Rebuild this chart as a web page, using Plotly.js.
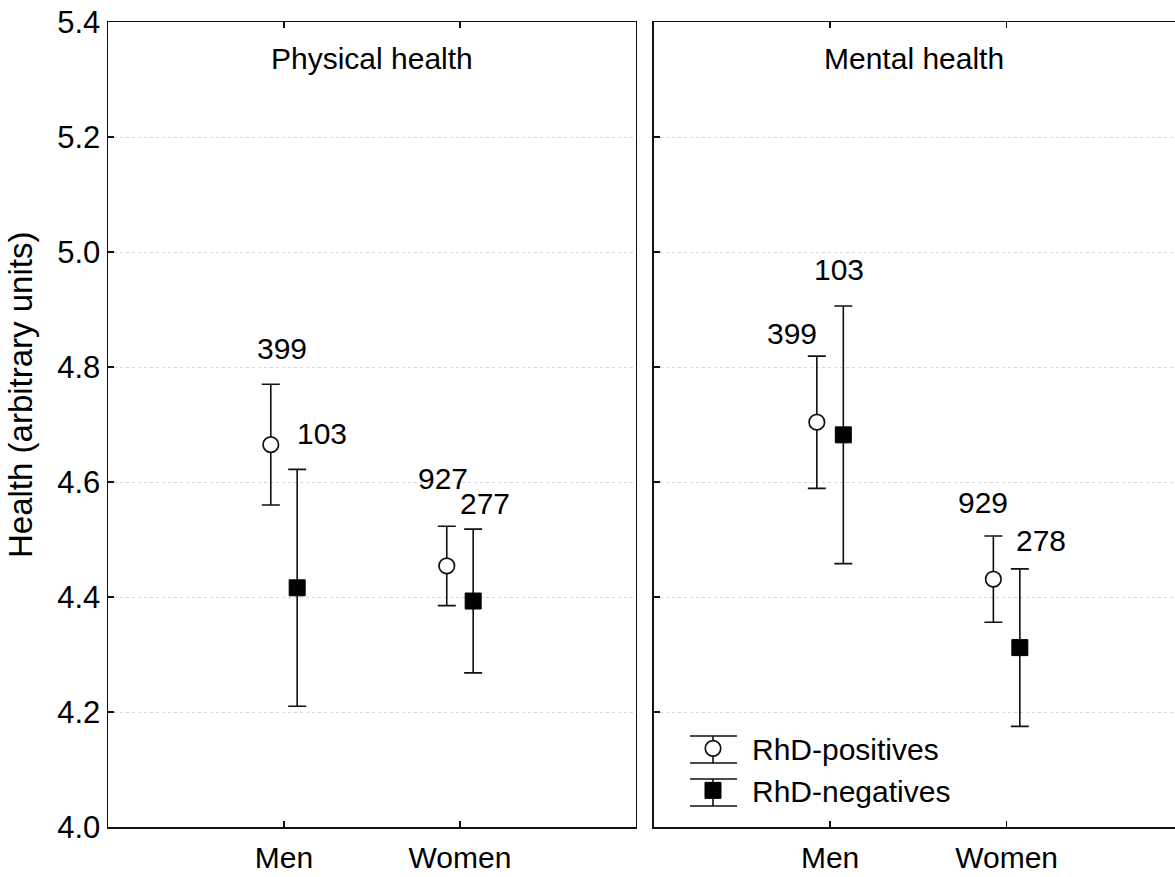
<!DOCTYPE html>
<html><head><meta charset="utf-8">
<script src="https://cdn.plot.ly/plotly-3.0.1.min.js"></script>
<style>html,body{margin:0;padding:0;background:#fff}#chart{width:1175px;height:877px}</style>
</head><body><div id="chart"></div>
<script>
// ---- data ----
const categories = ['Men', 'Women'];
const panelTitles = ['Physical health', 'Mental health'];
const seriesNames = ['RhD-positives', 'RhD-negatives'];
const yAxisTitle = 'Health (arbitrary units)';

const physPosMean = [4.665, 4.454];
const physPosErr  = [0.105, 0.069];
const physNegMean = [4.416, 4.393];
const physNegErr  = [0.206, 0.125];

const mentPosMean = [4.704, 4.431];
const mentPosErr  = [0.115, 0.075];
const mentNegMean = [4.682, 4.312];
const mentNegErr  = [0.224, 0.137];

const physPosN = [399, 927];
const physNegN = [103, 277];
const mentPosN = [399, 929];
const mentNegN = [103, 278];

const yTickVals = [4.0, 4.2, 4.4, 4.6, 4.8, 5.0, 5.2, 5.4];

// ---- styling ----
const FONT = 'Liberation Sans, Arial, sans-serif';
const FS = 30;
const INK = '#111';
const OFFSET = [-0.075, 0.075];           // horizontal offset of the two series
const catPos = categories.map((c, i) => i);
// label placement (pixel shifts relative to the upper whisker of each point)
const labelShift = {
  physPos: [[11, 36], [-4, 48]],
  physNeg: [[25, 36], [12, 26]],
  mentPos: [[-25, 23], [-10, 34]],
  mentNeg: [[-4, 37], [21, 28]]
};

// plot-area geometry helpers (pixel -> paper) for the legend key decoration
const M = {l: 108, r: 0, t: 22, b: 50}, W = 1175, H = 877;
const px2x = p => (p - M.l) / (W - M.l - M.r);
const px2y = p => (H - M.b - p) / (H - M.t - M.b);

function mkTrace(means, errs, s, xa, ya, showleg) {
  const open = s === 0;
  return {
    type: 'scatter', mode: 'markers',
    x: catPos.map(p => p + OFFSET[s]), y: means,
    xaxis: xa, yaxis: ya,
    name: seriesNames[s], showlegend: showleg,
    marker: open
      ? {symbol: 'circle', size: 15.5, color: '#fff', line: {color: INK, width: 1.7}}
      : {symbol: 'square', size: 16, color: '#000', line: {color: '#000', width: 1}},
    error_y: {type: 'data', array: errs, visible: true, color: INK, thickness: 1.6, width: 9},
    cliponaxis: false
  };
}

const traces = [
  mkTrace(physPosMean, physPosErr, 0, 'x', 'y', false),
  mkTrace(physNegMean, physNegErr, 1, 'x', 'y', false),
  mkTrace(mentPosMean, mentPosErr, 0, 'x2', 'y2', true),
  mkTrace(mentNegMean, mentNegErr, 1, 'x2', 'y2', true)
];

const annotations = [];
function addLabels(means, errs, ns, s, xref, yref, shifts) {
  ns.forEach((n, i) => {
    annotations.push({
      x: catPos[i] + OFFSET[s], y: means[i] + errs[i], xref: xref, yref: yref,
      text: String(n), showarrow: false,
      xshift: shifts[i][0], yshift: shifts[i][1],
      xanchor: 'center', yanchor: 'middle',
      font: {family: FONT, size: FS, color: '#000'}
    });
  });
}
addLabels(physPosMean, physPosErr, physPosN, 0, 'x', 'y', labelShift.physPos);
addLabels(physNegMean, physNegErr, physNegN, 1, 'x', 'y', labelShift.physNeg);
addLabels(mentPosMean, mentPosErr, mentPosN, 0, 'x2', 'y2', labelShift.mentPos);
addLabels(mentNegMean, mentNegErr, mentNegN, 1, 'x2', 'y2', labelShift.mentNeg);

panelTitles.forEach((t, i) => {
  annotations.push({
    text: t, xref: (i === 0 ? 'x' : 'x2') + ' domain', yref: 'paper',
    x: 0.5, y: px2y(58), xanchor: 'center', yanchor: 'middle', showarrow: false,
    font: {family: FONT, size: FS, color: '#000'}
  });
});

// y-axis title
annotations.push({
  text: yAxisTitle, xref: 'paper', yref: 'paper', x: px2x(20), y: px2y(395),
  xanchor: 'center', yanchor: 'middle', textangle: -90, showarrow: false,
  font: {family: FONT, size: 33, color: '#000'}
});

// legend key whisker decoration (caps + stem) matching the error bars
const shapes = [];
const keyX0 = px2x(690), keyX1 = px2x(737), keyXc = px2x(713);
[[736, 763], [779, 806]].forEach(([a, b]) => {
  const ln = {color: INK, width: 1.6};
  shapes.push({type: 'line', xref: 'paper', yref: 'paper', x0: keyX0, x1: keyX1, y0: px2y(a), y1: px2y(a), line: ln});
  shapes.push({type: 'line', xref: 'paper', yref: 'paper', x0: keyX0, x1: keyX1, y0: px2y(b), y1: px2y(b), line: ln});
  shapes.push({type: 'line', xref: 'paper', yref: 'paper', x0: keyXc, x1: keyXc, y0: px2y(a), y1: px2y(b), line: ln});
});

const gridStyle = {showgrid: true, gridcolor: '#d6d6d6', gridwidth: 1, griddash: 'dot'};
const xCommon = {
  range: [-1, 2], tickmode: 'array', tickvals: catPos, ticktext: categories,
  ticks: 'inside', ticklen: 6, tickwidth: 1.5, tickcolor: INK,
  showline: true, linecolor: INK, linewidth: 1.5, mirror: 'ticks',
  showgrid: false, zeroline: false, fixedrange: true, ticklabelstandoff: 3,
  tickfont: {family: FONT, size: FS, color: '#000'}
};

const layout = {
  width: W, height: H,
  margin: M,
  paper_bgcolor: '#fff', plot_bgcolor: '#fff',
  font: {family: FONT, size: FS, color: '#000'},
  xaxis: Object.assign({}, xCommon, {domain: [0, 0.4948], anchor: 'y'}),
  xaxis2: Object.assign({}, xCommon, {domain: [0.5113, 1], anchor: 'y2', range: [-1, 1.954]}),
  yaxis: Object.assign({}, gridStyle, {
    domain: [0, 1], anchor: 'x', range: [4.0, 5.4],
    tickmode: 'array', tickvals: yTickVals, ticktext: yTickVals.map(v => v.toFixed(1)),
    ticks: 'inside', ticklen: 6, tickwidth: 1.5, tickcolor: INK,
    showline: true, linecolor: INK, linewidth: 1.5, mirror: true,
    zeroline: false, fixedrange: true,
    tickfont: {family: FONT, size: 31, color: '#000'}
  }),
  yaxis3: {
    overlaying: 'y', anchor: 'x', side: 'right', range: [0, 9], dtick: 1,
    ticks: 'inside', ticklen: 6, tickwidth: 1.5, tickcolor: INK,
    showticklabels: false, showgrid: false, showline: false, zeroline: false, fixedrange: true
  },
  yaxis2: Object.assign({}, gridStyle, {
    domain: [0, 1], anchor: 'x2', range: [4.0, 5.4],
    tickmode: 'array', tickvals: yTickVals,
    ticks: 'inside', ticklen: 6, tickwidth: 1.5, tickcolor: INK,
    showticklabels: false, showline: true, linecolor: INK, linewidth: 1.5, mirror: false,
    zeroline: false, fixedrange: true
  }),
  showlegend: true,
  legend: {
    x: px2x(674), y: 0.13, xanchor: 'left', yanchor: 'top', itemwidth: 68,
    bgcolor: 'rgba(0,0,0,0)', borderwidth: 0,
    font: {family: FONT, size: FS, color: '#000'},
    tracegroupgap: 0
  },
  shapes: shapes,
  annotations: annotations
};

Plotly.newPlot('chart', traces, layout, {displayModeBar: false, staticPlot: true});
</script>
</body></html>
